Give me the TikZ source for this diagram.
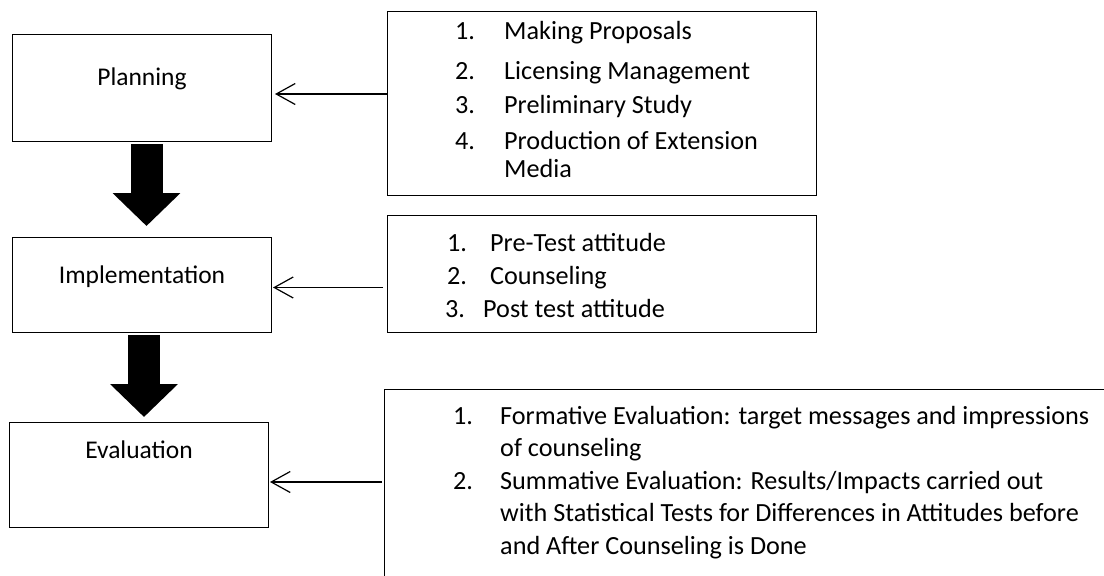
\documentclass[tikz,border=0pt]{standalone}
\usepackage{fontspec}
\setmainfont{Carlito}
\usepackage{tikz}
\usetikzlibrary{arrows.meta,positioning}
\newcommand{\itemno}[2][49pt]{\makebox[#1][l]{#2}}
\tikzset{
  stagebox/.style={
    rectangle, draw=black, line width=1pt, anchor=north west,
    minimum width=259pt, inner sep=0pt
  },
  stagelabel/.style={anchor=base, inner sep=0pt, font=\fontsize{25.5}{30}\selectfont},
  actbox/.style={rectangle, draw=black, line width=1pt, anchor=north west, inner sep=0pt},
  acttext/.style={anchor=base west, align=left, inner sep=0pt, font=\fontsize{26.2}{33}\selectfont},
  stageflow/.style={line width=32pt, -{Triangle[length=33pt,width=66pt]}},
  feedarrow/.style={line width=1.2pt, -{Straight Barb[length=19pt,width=21pt]}},
}

\begin{document}
\begin{tikzpicture}[x=1pt, y=-1pt]
  \clip (0,0) rectangle (1104,576);
  % stages
  \node (plan) [stagebox, minimum height=107pt, label={[stagelabel, yshift=-51pt]north:Planning}] at (12,34) {};
  \node (impl) [stagebox, minimum height=95pt, label={[stagelabel, yshift=-46pt]north:Implementation}] at (12,237) {};
  \node (eval) [stagebox, minimum height=105pt, label={[stagelabel, yshift=-36pt]north:Evaluation}] at (9,422) {};
  % activity boxes
  \node (acts1) [actbox, minimum width=429pt, minimum height=184pt] at (387,11) {};
  \node (acts2) [actbox, minimum width=429pt, minimum height=117pt] at (387,215) {};
  \node (acts3) [actbox, minimum width=760pt, minimum height=220pt] at (384,389) {};
  % lists (anchored on their last line)
  \node (list1) [acttext] at (455,177) {\itemno{1.}Making Proposals\\[7pt]
    \itemno{2.}Licensing Management\\[1pt]
    \itemno{3.}Preliminary Study\\[3pt]
    \itemno{4.}Production of Extension\\[-5pt]
    \hspace*{49pt}Media};
  \node (list2) [acttext] at (447,317) {\itemno[43pt]{1.}Pre-Test attitude\\
    \itemno[43pt]{2.}Counseling\\
    \hspace*{-2pt}\itemno[38pt]{3.}Post test attitude};
  \node (list3) [acttext, font=\fontsize{26.2}{32.5}\selectfont] at (453,554) {\itemno[47pt]{1.}Formative Evaluation: target messages and impressions\\
    \hspace*{47pt}of counseling\\
    \itemno[47pt]{2.}Summative Evaluation: Results/Impacts carried out\\
    \hspace*{47pt}with Statistical Tests for Differences in Attitudes before\\
    \hspace*{47pt}and After Counseling is Done};
  % flow between stages
  \draw[stageflow] ([xshift=4.5pt,yshift=-2pt]plan.south) -- ([xshift=4.5pt,yshift=11pt]impl.north);
  \draw[stageflow] ([xshift=2pt,yshift=-2pt]impl.south) -- ([xshift=5pt,yshift=5pt]eval.north);
  % activities into stages
  \draw[feedarrow] (acts1.west |- 0,94) -- ([xshift=3pt]plan.east |- 0,94);
  \draw[feedarrow] ([xshift=-4pt]acts2.west |- 0,287.5) -- ([xshift=1pt]impl.east |- 0,287.5);
  \draw[feedarrow] ([xshift=-2pt]acts3.west |- 0,482) -- ([xshift=1pt]eval.east |- 0,482);
\end{tikzpicture}
\end{document}
